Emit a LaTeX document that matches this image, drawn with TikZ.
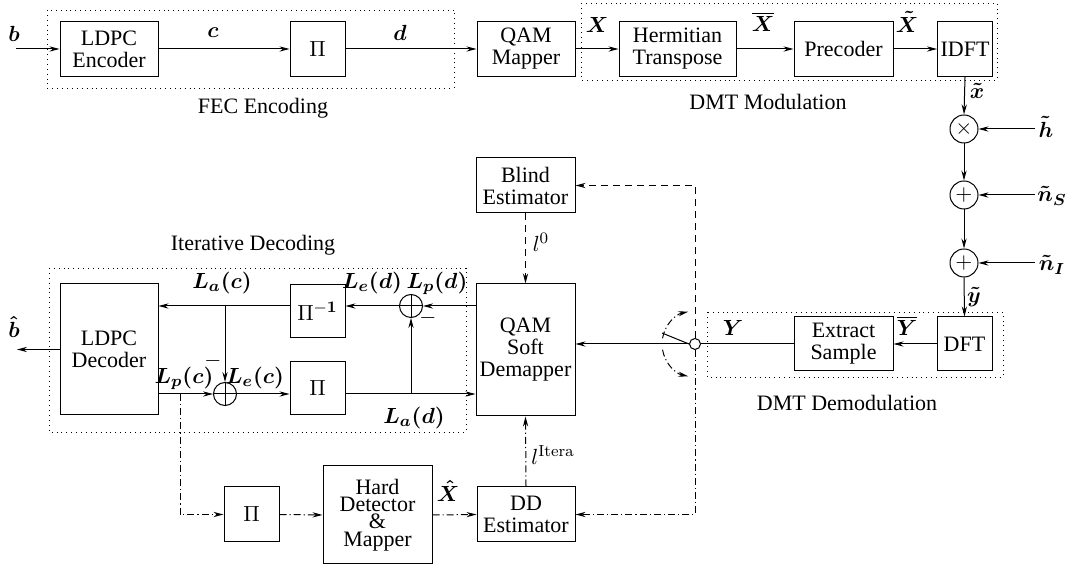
\documentclass[tikz,border=0pt]{standalone}
\usepackage{amsmath}
\usepackage[no-math]{fontspec}
\setmainfont{Liberation Serif}
\usetikzlibrary{arrows.meta,calc}
\begin{document}
\begin{tikzpicture}[x=0.5pt,y=-0.5pt,
  font=\fontsize{11}{11}\selectfont,
  blk/.style={draw,line width=0.5pt,inner sep=1pt,align=center},
  arr/.style={-{Stealth[length=5pt,width=2.6pt]},line width=0.5pt},
  dsh/.style={dash pattern=on 3.5pt off 2.5pt},
  dshdot/.style={dash pattern=on 3.5pt off 1.5pt on 0.6pt off 1.5pt},
  grp/.style={draw,line width=0.45pt,dash pattern=on 0.45pt off 2pt},
  sumc/.style={circle,draw,line width=0.5pt,minimum size=14pt,inner sep=0pt},
  xorc/.style={circle,draw,line width=0.5pt,minimum size=11.5pt,inner sep=0pt,
    path picture={\draw[line width=0.5pt] (path picture bounding box.north) -- (path picture bounding box.south)
      (path picture bounding box.west) -- (path picture bounding box.east);}},
  lbl/.style={inner sep=0pt}
]
\useasboundingbox (0,0) rectangle (1070,565);

% group frames
\draw[grp] (47,10) rectangle (454,88);
\draw[grp] (581,3) rectangle (997,80);
\draw[grp] (707,312) rectangle (1003,377);
\draw[grp] (49,268) rectangle (466,432);
\node[lbl] (gfec) at (263,108) {FEC Encoding};
\node[lbl] (gmod) at (768,102) {DMT Modulation};
\node[lbl] (gdem) at (847,403) {DMT Demodulation};
\node[lbl] (gdec) at (253,245) {Iterative Decoding};

% top row
\node[blk,minimum width=49pt,minimum height=27.5pt] (enc) at (109,49) {LDPC\\Encoder};
\node[blk,minimum width=27.5pt,minimum height=27.5pt] (pia) at (317.5,49) {$\Pi$};
\node[blk,minimum width=49pt,minimum height=27.5pt] (qmap) at (526,49) {QAM\\Mapper};
\node[blk,minimum width=58.5pt,minimum height=27.5pt] (herm) at (677.5,49) {Hermitian\\Transpose};
\node[blk,minimum width=49.5pt,minimum height=27.5pt] (prec) at (843.5,49) {Precoder};
\node[blk,minimum width=27.5pt,minimum height=27.5pt,inner sep=0pt] (idft) at (965,49) {IDFT};

% channel
\node[sumc] (mul) at (964,129) {$\times$};
\node[sumc] (ad1) at (964,195) {$+$};
\node[sumc] (ad2) at (964,263) {$+$};

% demod
\node[blk,minimum width=27.5pt,minimum height=27pt,inner sep=0pt] (dft) at (964.5,344) {DFT};
\node[blk,minimum width=49.5pt,minimum height=27pt] (ext) at (843.5,344) {Extract\\Sample};
\node[circle,draw,line width=0.5pt,minimum size=5.5pt,inner sep=0pt] (sw) at (695,344) {};

% estimators and demapper
\node[blk,minimum width=49.5pt,minimum height=27.5pt] (blind) at (525.5,185.5) {Blind\\Estimator};
\node[blk,minimum width=49.5pt,minimum height=66pt] (qsoft) at (525.5,350) {QAM\\Soft\\Demapper};
\node[blk,minimum width=49pt,minimum height=27.5pt] (dd) at (526,514.5) {DD\\Estimator};
\node[blk,minimum width=54.5pt,minimum height=49pt,font=\fontsize{11}{8.7}\selectfont] (hard) at (377.5,515) {Hard\\Detector\\\&\\Mapper};
\node[blk,minimum width=27.5pt,minimum height=27.5pt] (pib) at (251.5,514.5) {$\Pi$};

% decoder
\node[blk,minimum width=49pt,minimum height=65.5pt] (dec) at (109,349.5) {LDPC\\Decoder};
\node[blk,minimum width=27.5pt,minimum height=26.5pt] (pii) at (317.5,311.5) {$\Pi^{\mathbf{-1}}$};
\node[blk,minimum width=27.5pt,minimum height=26.5pt] (pil) at (317.5,388.5) {$\Pi$};
\node[xorc] (xu) at (411,306) {};
\node[xorc] (xl) at (225,394) {};

% free ends
\coordinate (bin) at (16,49);
\coordinate (bout) at (17,349.5);
\coordinate (hin) at (1035,129);
\coordinate (nsin) at (1035,195);
\coordinate (niin) at (1035,263);
\coordinate (tapla) at (225,306);
\coordinate (tapld) at (411,394);
\coordinate (taplp) at (180,394);

% top row connectors
\draw[arr] (bin) -- (enc.west);
\draw[arr] (enc.east) -- (pia.west);
\draw[arr] (pia.east) -- (qmap.west);
\draw[arr] (qmap.east) -- (herm.west);
\draw[arr] (herm.east) -- (prec.west);
\draw[arr] (prec.east) -- (idft.west);
\draw[arr] (idft.south) -- (mul.north);
\draw[arr] (hin) -- (mul.east);
\draw[arr] (mul.south) -- (ad1.north);
\draw[arr] (nsin) -- (ad1.east);
\draw[arr] (ad1.south) -- (ad2.north);
\draw[arr] (niin) -- (ad2.east);
\draw[arr] (ad2.south) -- (dft.north);
\draw[arr] (dft.west) -- (ext.east);
\draw[line width=0.5pt] (ext.west) -- (sw.east);
\draw[arr] (sw.west) -- (qsoft.east |- sw);
\draw[line width=0.5pt] (sw.west) -- ++(-27,-11);
\draw[arr,dshdot] ($(sw)+(-170:33)$) arc[start angle=-170,end angle=-102,radius=33];
\draw[arr,dshdot] ($(sw)+(170:33)$) arc[start angle=170,end angle=102,radius=33];
\draw[arr,dsh] (sw.north) |- (blind.east);
\draw[arr,dshdot] (sw.south) |- (dd.east);
\draw[arr,dsh] (blind.south) -- (qsoft.north);
\draw[arr,dshdot] (dd.north) -- (qsoft.south);
\draw[arr,dshdot] (hard.east) -- (dd.west);
\draw[arr,dshdot] (pib.east) -- (hard.west);
\draw[arr,dshdot] (taplp) |- (pib.west);

% decoder connectors
\draw[arr] (qsoft.west |- xu) -- (xu.east);
\draw[arr] (xu.west) -- (pii.east |- xu);
\draw[arr] (pii.west |- xu) -- (dec.east |- xu);
\draw[arr] (tapla) -- (xl.north);
\draw[arr] (dec.east |- xl) -- (xl.west);
\draw[arr] (xl.east) -- (pil.west |- xl);
\draw[arr] (pil.east |- xl) -- (qsoft.west |- xl);
\draw[arr] (tapld) -- (xu.south);
\draw[arr] (dec.west) -- (bout);

% labels
\node[lbl] (lb) at (14,34) {$\boldsymbol{b}$};
\node[lbl] (lc) at (213,33) {$\boldsymbol{c}$};
\node[lbl] (ld) at (400,33) {$\boldsymbol{d}$};
\node[lbl] (lX) at (597,25) {$\boldsymbol{X}$};
\node[lbl] (lXb) at (763,22) {$\overline{\boldsymbol{X}}$};
\node[lbl] (lXt) at (907,22) {$\boldsymbol{\tilde X}$};
\node[lbl] (lxt) at (977,91) {$\boldsymbol{\tilde x}$};
\node[lbl] (lh) at (1046,127) {$\boldsymbol{\tilde h}$};
\node[lbl] (lnS) at (1052,196) {$\boldsymbol{\tilde n_S}$};
\node[lbl] (lnI) at (1052,265) {$\boldsymbol{\tilde n_I}$};
\node[lbl] (lyt) at (974,297) {$\boldsymbol{\tilde y}$};
\node[lbl] (lYb) at (907,326) {$\overline{\boldsymbol{Y}}$};
\node[lbl] (lY) at (733,328) {$\boldsymbol{Y}$};
\node[lbl] (ll0) at (541,242) {$l^0$};
\node[lbl] (llit) at (553,455) {$l^{\mathrm{Itera}}$};
\node[lbl] (lXh) at (448,491) {$\boldsymbol{\hat X}$};
\node[lbl] (lbh) at (14,327) {$\boldsymbol{\hat b}$};
\node[lbl] (lLac) at (222,283) {$\boldsymbol{L_a(c)}$};
\node[lbl] (lLed) at (372,283) {$\boldsymbol{L_e(d)}$};
\node[lbl] (lLpd) at (437,283) {$\boldsymbol{L_p(d)}$};
\node[lbl] (lmu) at (428,318) {$-$};
\node[lbl] (lLpc) at (184,378) {$\boldsymbol{L_p(c)}$};
\node[lbl] (lml) at (213,361) {$-$};
\node[lbl] (lLec) at (255,378) {$\boldsymbol{L_e(c)}$};
\node[lbl] (lLad) at (414,418) {$\boldsymbol{L_a(d)}$};
\end{tikzpicture}
\end{document}
